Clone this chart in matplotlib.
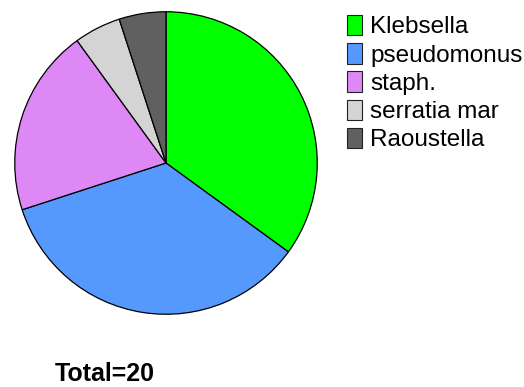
import matplotlib
matplotlib.use("Agg")
import matplotlib.pyplot as plt

categories = ["Klebsella", "pseudomonus", "staph.", "serratia mar", "Raoustella"]
counts = [7, 7, 4, 1, 1]
colors = ["#00FF00", "#5599FF", "#DD88F5", "#D4D4D4", "#606060"]
total_label = "Total=20"

W, H, DPI = 524, 387, 100
fig = plt.figure(figsize=(W / DPI, H / DPI), dpi=DPI)
plt.rcParams['font.family'] = ['Liberation Sans', 'DejaVu Sans']

cx, cy, r = 166, 387 - 163, 152
ax = fig.add_axes([(cx - r) / W, (cy - r) / H, 2 * r / W, 2 * r / H])
wedges, _ = ax.pie(counts, colors=colors, startangle=90, counterclock=False,
                   wedgeprops=dict(edgecolor="black", linewidth=0.9))
ax.set_xlim(-1.005, 1.005)
ax.set_ylim(-1.005, 1.005)
ax.set_aspect("equal")
ax.axis("off")

leg = fig.legend(wedges, categories, loc="upper left",
                 bbox_to_anchor=(342 / W, 1 - 10 / H), frameon=False,
                 fontsize=17.5, handlelength=0.64, handleheight=0.92,
                 handletextpad=0.32, labelspacing=0.19, borderaxespad=0,
                 borderpad=0.2)
for h in leg.legend_handles:
    h.set_edgecolor("#222222")
    h.set_linewidth(0.8)

fig.text(55 / W, 6 / H, total_label, fontsize=18, fontweight="bold",
         ha="left", va="baseline")

fig.savefig("out.png", dpi=DPI)
